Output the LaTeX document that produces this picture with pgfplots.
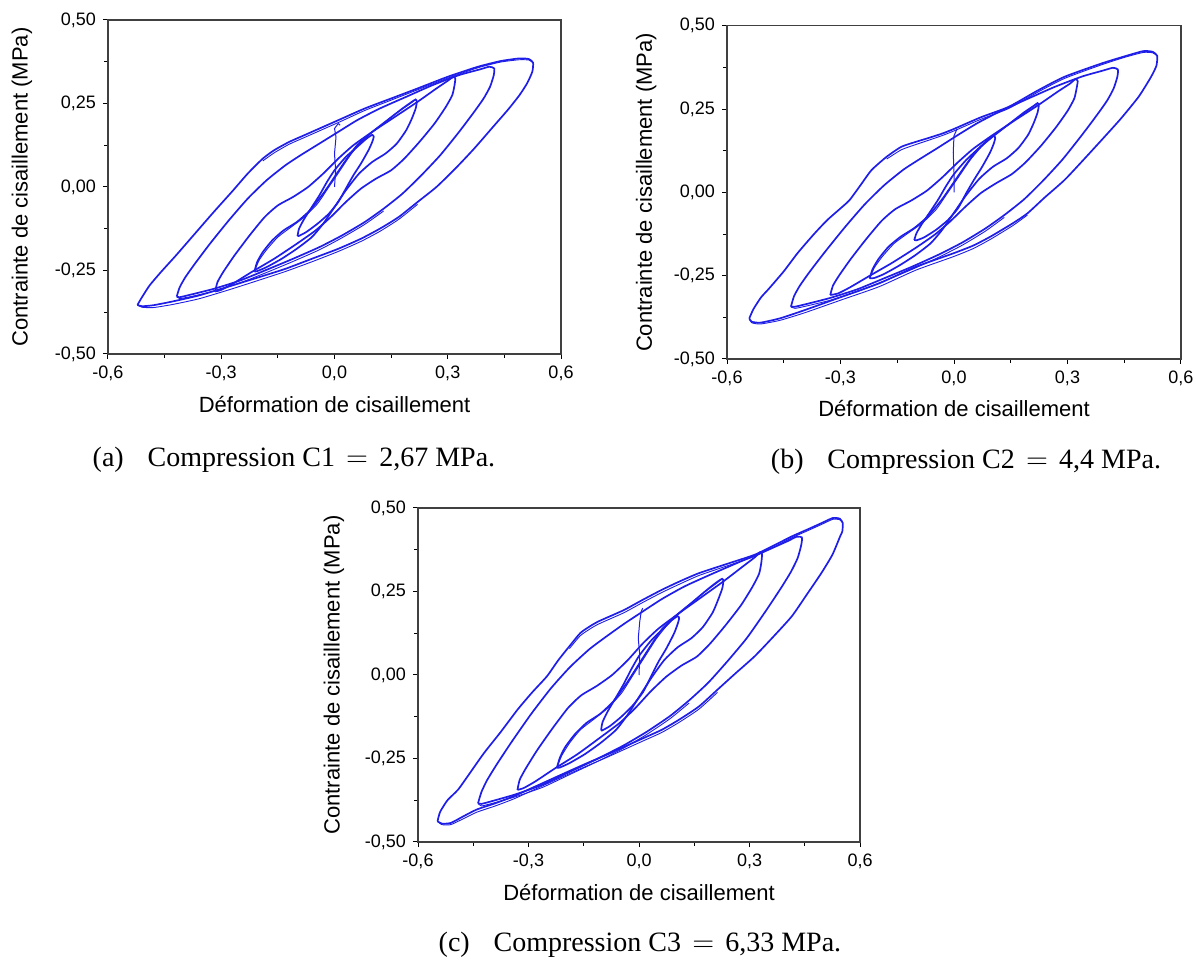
\documentclass[border=0pt]{standalone}
\usepackage{pgfplots}
\pgfplotsset{compat=1.18}
\usepackage{fontspec}
\setmainfont{Liberation Sans}
\newfontfamily\capfont{Liberation Serif}
\definecolor{loopblue}{RGB}{30,30,232}
\pgfplotsset{
  panel/.style={
    scale only axis, anchor=south west,
    xmin=-0.6, xmax=0.6, ymin=-0.5, ymax=0.5,
    xtick={-0.6,-0.3,0,0.3,0.6},
    xticklabels={{-0,6},{-0,3},{0,0},{0,3},{0,6}},
    ytick={-0.5,-0.25,0,0.25,0.5},
    yticklabels={{-0,50},{-0,25},{0,00},{0,25},{0,50}},
    minor xtick={-0.45,-0.15,0.15,0.45},
    minor ytick={-0.375,-0.125,0.125,0.375},
    tick align=outside, tick pos=left,
    major tick length=2.5pt, minor tick length=1.8pt,
    tick style={black, line width=0.5pt},
    axis line style={black!75, line width=0.6pt},
    tick label style={font=\fontsize{9}{11}\selectfont},
    xlabel={Déformation de cisaillement},
    ylabel={Contrainte de cisaillement (MPa)},
    xlabel style={font=\fontsize{11}{13}\selectfont, at={(axis description cs:0.5,-0.15)}, anchor=center},
    ylabel style={font=\fontsize{11}{13}\selectfont, anchor=center},
    clip=false,
  },
  hyst/.style={color=loopblue, line width=0.85pt, smooth, tension=0.35, mark=none},
  strand/.style={color=loopblue, line width=0.45pt, smooth, tension=0.35, mark=none},
}
\begin{document}
\begin{tikzpicture}
\useasboundingbox (0,0) rectangle (598pt,480pt);
% ---------------- (a)
\begin{axis}[panel, width=226.5pt, height=167pt, at={(54pt,303pt)},
  ylabel style={at={(axis description cs:-0.19,0.5)}}]
\addplot[hyst] coordinates {(-0.522,-0.353)(-0.510,-0.330)(-0.490,-0.295)(-0.460,-0.255)(-0.420,-0.205)(-0.370,-0.140)(-0.320,-0.075)(-0.270,-0.012)(-0.230,0.040)(-0.190,0.085)(-0.160,0.110)(-0.120,0.135)(-0.080,0.155)(-0.030,0.180)(0.020,0.205)(0.080,0.235)(0.150,0.265)(0.220,0.295)(0.300,0.330)(0.380,0.360)(0.440,0.377)(0.490,0.385)(0.515,0.383)(0.526,0.372)(0.524,0.345)(0.510,0.310)(0.490,0.275)(0.460,0.232)(0.420,0.180)(0.370,0.115)(0.320,0.055)(0.270,0.000)(0.220,-0.045)(0.170,-0.090)(0.120,-0.125)(0.070,-0.155)(0.010,-0.185)(-0.060,-0.215)(-0.130,-0.245)(-0.200,-0.270)(-0.280,-0.298)(-0.360,-0.325)(-0.430,-0.343)(-0.480,-0.354)(-0.510,-0.357)(-0.522,-0.353)};
\addplot[strand] coordinates {(0.220,-0.052)(0.170,-0.097)(0.120,-0.133)(0.070,-0.163)(0.010,-0.193)(-0.060,-0.224)(-0.130,-0.253)(-0.200,-0.279)(-0.280,-0.308)(-0.360,-0.335)(-0.430,-0.352)(-0.480,-0.361)(-0.510,-0.360)(-0.522,-0.353)};
\addplot[strand] coordinates {(-0.190,0.078)(-0.160,0.102)(-0.120,0.128)(-0.080,0.148)(-0.030,0.173)(0.020,0.198)(0.080,0.229)(0.150,0.260)(0.220,0.291)(0.300,0.326)(0.380,0.357)(0.440,0.374)(0.490,0.381)(0.515,0.380)(0.526,0.372)};
\addplot[hyst] coordinates {(-0.418,-0.328)(-0.410,-0.300)(-0.395,-0.270)(-0.370,-0.230)(-0.330,-0.170)(-0.280,-0.100)(-0.230,-0.035)(-0.180,0.020)(-0.130,0.065)(-0.090,0.095)(-0.040,0.130)(0.010,0.165)(0.060,0.200)(0.120,0.235)(0.190,0.270)(0.260,0.305)(0.330,0.335)(0.385,0.352)(0.410,0.360)(0.423,0.355)(0.422,0.335)(0.412,0.300)(0.395,0.265)(0.370,0.225)(0.330,0.165)(0.280,0.095)(0.230,0.035)(0.180,-0.020)(0.130,-0.065)(0.080,-0.105)(0.020,-0.145)(-0.040,-0.180)(-0.110,-0.215)(-0.180,-0.248)(-0.250,-0.280)(-0.320,-0.305)(-0.380,-0.322)(-0.410,-0.330)(-0.418,-0.328)};
\addplot[strand] coordinates {(0.130,-0.072)(0.080,-0.112)(0.020,-0.152)(-0.040,-0.188)(-0.110,-0.223)(-0.180,-0.256)(-0.250,-0.287)(-0.320,-0.312)(-0.380,-0.328)(-0.410,-0.334)(-0.418,-0.328)};
\addplot[hyst] coordinates {(-0.316,-0.313)(-0.310,-0.285)(-0.295,-0.255)(-0.265,-0.205)(-0.225,-0.145)(-0.185,-0.090)(-0.150,-0.055)(-0.110,-0.030)(-0.070,0.000)(-0.030,0.040)(0.010,0.085)(0.050,0.125)(0.100,0.165)(0.160,0.210)(0.220,0.255)(0.270,0.295)(0.300,0.318)(0.315,0.330)(0.320,0.325)(0.318,0.305)(0.312,0.275)(0.295,0.240)(0.265,0.190)(0.225,0.135)(0.185,0.085)(0.150,0.050)(0.110,0.025)(0.070,-0.005)(0.030,-0.045)(-0.010,-0.090)(-0.050,-0.130)(-0.100,-0.170)(-0.160,-0.215)(-0.220,-0.255)(-0.270,-0.290)(-0.300,-0.308)(-0.316,-0.313)};
\addplot[hyst] coordinates {(-0.212,-0.253)(-0.205,-0.225)(-0.190,-0.195)(-0.165,-0.160)(-0.135,-0.130)(-0.100,-0.105)(-0.065,-0.070)(-0.030,-0.020)(0.000,0.030)(0.030,0.080)(0.060,0.125)(0.100,0.165)(0.140,0.200)(0.180,0.235)(0.205,0.255)(0.215,0.262)(0.218,0.255)(0.215,0.235)(0.205,0.205)(0.190,0.170)(0.165,0.130)(0.135,0.100)(0.100,0.075)(0.065,0.040)(0.030,-0.010)(0.000,-0.060)(-0.030,-0.110)(-0.060,-0.150)(-0.100,-0.185)(-0.140,-0.215)(-0.180,-0.240)(-0.205,-0.252)(-0.212,-0.253)};
\addplot[strand] coordinates {(-0.212,-0.253)(-0.200,-0.220)(-0.180,-0.188)(-0.150,-0.150)(-0.115,-0.120)(-0.080,-0.090)(-0.045,-0.050)(-0.015,0.000)(0.015,0.050)(0.045,0.100)(0.080,0.145)(0.120,0.182)(0.160,0.218)(0.195,0.245)(0.215,0.262)};
\addplot[hyst] coordinates {(-0.098,-0.147)(-0.094,-0.125)(-0.080,-0.095)(-0.060,-0.060)(-0.040,-0.025)(-0.020,0.015)(0.000,0.050)(0.030,0.090)(0.060,0.120)(0.085,0.145)(0.100,0.156)(0.104,0.150)(0.100,0.135)(0.090,0.110)(0.070,0.070)(0.050,0.035)(0.030,-0.005)(0.010,-0.045)(-0.015,-0.080)(-0.045,-0.110)(-0.075,-0.135)(-0.095,-0.147)(-0.098,-0.147)};
\addplot[color=loopblue, line width=0.5pt] coordinates {(0.000,0.000)(0.003,0.050)(0.000,0.100)(0.004,0.150)(0.000,0.175)(0.010,0.190)(0.015,0.185)};
\end{axis}
% ---------------- (b)
\begin{axis}[panel, width=227pt, height=166.6pt, at={(363.5pt,300.5pt)},
  ylabel style={at={(axis description cs:-0.178,0.5)}}]
\addplot[hyst] coordinates {(-0.541,-0.378)(-0.530,-0.350)(-0.510,-0.315)(-0.490,-0.290)(-0.450,-0.237)(-0.414,-0.183)(-0.370,-0.125)(-0.335,-0.083)(-0.300,-0.048)(-0.276,-0.023)(-0.245,0.025)(-0.218,0.067)(-0.178,0.107)(-0.139,0.137)(-0.100,0.152)(-0.071,0.162)(-0.030,0.177)(0.003,0.192)(0.070,0.225)(0.145,0.257)(0.220,0.305)(0.292,0.347)(0.390,0.387)(0.450,0.408)(0.500,0.424)(0.525,0.422)(0.537,0.410)(0.535,0.380)(0.520,0.345)(0.488,0.287)(0.440,0.220)(0.390,0.157)(0.340,0.095)(0.292,0.037)(0.240,-0.015)(0.194,-0.063)(0.155,-0.093)(0.096,-0.133)(0.050,-0.160)(-0.002,-0.183)(-0.100,-0.223)(-0.198,-0.273)(-0.296,-0.313)(-0.394,-0.353)(-0.460,-0.378)(-0.512,-0.391)(-0.535,-0.388)(-0.541,-0.378)};
\addplot[strand] coordinates {(0.194,-0.068)(0.155,-0.100)(0.096,-0.141)(0.050,-0.169)(-0.002,-0.193)(-0.100,-0.233)(-0.198,-0.283)(-0.296,-0.322)(-0.394,-0.361)(-0.460,-0.384)(-0.512,-0.395)(-0.535,-0.391)(-0.541,-0.378)};
\addplot[strand] coordinates {(-0.178,0.100)(-0.139,0.128)(-0.100,0.144)(-0.071,0.155)(-0.030,0.171)(0.003,0.186)(0.070,0.219)(0.145,0.252)(0.220,0.300)(0.292,0.342)(0.390,0.383)(0.450,0.405)(0.500,0.420)(0.525,0.419)(0.537,0.410)};
\addplot[hyst] coordinates {(-0.431,-0.343)(-0.423,-0.312)(-0.408,-0.281)(-0.382,-0.239)(-0.340,-0.177)(-0.288,-0.104)(-0.236,-0.036)(-0.185,0.021)(-0.134,0.068)(-0.092,0.099)(-0.041,0.135)(0.010,0.172)(0.062,0.208)(0.123,0.244)(0.195,0.281)(0.267,0.317)(0.339,0.348)(0.395,0.366)(0.420,0.374)(0.433,0.369)(0.432,0.348)(0.422,0.312)(0.405,0.276)(0.379,0.234)(0.338,0.172)(0.287,0.099)(0.236,0.036)(0.185,-0.021)(0.133,-0.068)(0.082,-0.109)(0.021,-0.151)(-0.041,-0.187)(-0.113,-0.224)(-0.185,-0.258)(-0.256,-0.291)(-0.328,-0.317)(-0.390,-0.335)(-0.420,-0.343)(-0.431,-0.343)};
\addplot[strand] coordinates {(0.133,-0.075)(0.082,-0.117)(0.021,-0.159)(-0.041,-0.195)(-0.113,-0.232)(-0.185,-0.266)(-0.256,-0.298)(-0.328,-0.324)(-0.390,-0.341)(-0.420,-0.348)(-0.431,-0.343)};
\addplot[hyst] coordinates {(-0.327,-0.308)(-0.320,-0.280)(-0.304,-0.250)(-0.273,-0.200)(-0.232,-0.140)(-0.191,-0.085)(-0.155,-0.050)(-0.114,-0.025)(-0.072,0.005)(-0.031,0.045)(0.010,0.090)(0.051,0.131)(0.102,0.172)(0.163,0.218)(0.224,0.263)(0.275,0.303)(0.306,0.326)(0.321,0.340)(0.327,0.334)(0.324,0.312)(0.318,0.282)(0.301,0.246)(0.270,0.196)(0.230,0.140)(0.189,0.090)(0.153,0.055)(0.112,0.028)(0.071,-0.002)(0.031,-0.042)(-0.010,-0.087)(-0.051,-0.127)(-0.102,-0.167)(-0.163,-0.211)(-0.224,-0.251)(-0.275,-0.285)(-0.306,-0.303)(-0.327,-0.308)};
\addplot[hyst] coordinates {(-0.223,-0.258)(-0.215,-0.230)(-0.199,-0.199)(-0.173,-0.163)(-0.141,-0.133)(-0.105,-0.107)(-0.068,-0.071)(-0.031,-0.020)(0.000,0.031)(0.031,0.082)(0.062,0.128)(0.103,0.168)(0.144,0.204)(0.185,0.240)(0.211,0.260)(0.221,0.268)(0.224,0.260)(0.221,0.240)(0.211,0.209)(0.196,0.173)(0.170,0.133)(0.139,0.102)(0.103,0.077)(0.067,0.041)(0.031,-0.010)(0.000,-0.061)(-0.031,-0.112)(-0.062,-0.153)(-0.103,-0.189)(-0.144,-0.219)(-0.185,-0.245)(-0.211,-0.257)(-0.223,-0.258)};
\addplot[strand] coordinates {(-0.223,-0.258)(-0.210,-0.225)(-0.189,-0.192)(-0.158,-0.153)(-0.121,-0.122)(-0.084,-0.092)(-0.047,-0.051)(-0.016,0.000)(0.015,0.051)(0.046,0.102)(0.082,0.148)(0.124,0.186)(0.165,0.222)(0.200,0.250)(0.221,0.268)};
\addplot[hyst] coordinates {(-0.105,-0.143)(-0.099,-0.122)(-0.084,-0.093)(-0.063,-0.058)(-0.042,-0.022)(-0.021,0.019)(0.000,0.055)(0.032,0.097)(0.063,0.130)(0.089,0.157)(0.105,0.170)(0.109,0.163)(0.105,0.146)(0.095,0.119)(0.074,0.076)(0.053,0.038)(0.032,-0.003)(0.011,-0.047)(-0.016,-0.083)(-0.047,-0.112)(-0.079,-0.135)(-0.100,-0.144)(-0.105,-0.143)};
\addplot[color=loopblue, line width=0.5pt] coordinates {(0.000,0.000)(0.000,0.060)(-0.002,0.120)(0.000,0.170)(0.008,0.190)};
\end{axis}
% ---------------- (c)
\begin{axis}[panel, width=221pt, height=167pt, at={(209pt,59pt)},
  ylabel style={at={(axis description cs:-0.19,0.5)}}]
\addplot[hyst] coordinates {(-0.547,-0.438)(-0.540,-0.410)(-0.520,-0.375)(-0.491,-0.343)(-0.460,-0.295)(-0.421,-0.234)(-0.375,-0.170)(-0.330,-0.104)(-0.290,-0.052)(-0.250,-0.004)(-0.220,0.043)(-0.189,0.086)(-0.159,0.126)(-0.130,0.148)(-0.109,0.161)(-0.070,0.180)(-0.038,0.196)(0.010,0.225)(0.062,0.255)(0.110,0.280)(0.163,0.305)(0.240,0.333)(0.314,0.360)(0.370,0.390)(0.415,0.415)(0.460,0.437)(0.496,0.455)(0.526,0.470)(0.545,0.468)(0.553,0.455)(0.552,0.430)(0.546,0.415)(0.525,0.360)(0.495,0.305)(0.455,0.240)(0.415,0.176)(0.365,0.115)(0.314,0.056)(0.260,0.003)(0.213,-0.044)(0.163,-0.094)(0.110,-0.133)(0.062,-0.164)(0.010,-0.190)(-0.038,-0.214)(-0.090,-0.240)(-0.139,-0.263)(-0.190,-0.288)(-0.240,-0.313)(-0.290,-0.338)(-0.340,-0.363)(-0.390,-0.384)(-0.441,-0.403)(-0.480,-0.425)(-0.511,-0.443)(-0.535,-0.445)(-0.547,-0.438)};
\addplot[strand] coordinates {(0.213,-0.052)(0.163,-0.102)(0.110,-0.141)(0.062,-0.172)(0.010,-0.198)(-0.038,-0.222)(-0.090,-0.248)(-0.139,-0.271)(-0.190,-0.296)(-0.240,-0.321)(-0.290,-0.346)(-0.340,-0.371)(-0.390,-0.392)(-0.441,-0.411)(-0.480,-0.432)(-0.511,-0.448)(-0.535,-0.448)(-0.547,-0.438)};
\addplot[strand] coordinates {(-0.189,0.079)(-0.159,0.118)(-0.130,0.140)(-0.109,0.153)(-0.070,0.172)(-0.038,0.188)(0.010,0.217)(0.062,0.247)(0.110,0.272)(0.163,0.298)(0.240,0.327)(0.314,0.355)(0.370,0.385)(0.415,0.411)(0.460,0.433)(0.496,0.451)(0.526,0.466)(0.545,0.465)(0.553,0.455)};
\addplot[hyst] coordinates {(-0.437,-0.384)(-0.428,-0.351)(-0.413,-0.316)(-0.387,-0.269)(-0.345,-0.199)(-0.293,-0.117)(-0.240,-0.041)(-0.188,0.023)(-0.136,0.076)(-0.094,0.111)(-0.042,0.152)(0.010,0.190)(0.063,0.228)(0.125,0.266)(0.199,0.303)(0.272,0.338)(0.345,0.372)(0.402,0.400)(0.428,0.414)(0.442,0.412)(0.441,0.392)(0.431,0.351)(0.413,0.310)(0.387,0.263)(0.345,0.193)(0.293,0.111)(0.240,0.041)(0.188,-0.023)(0.136,-0.076)(0.084,-0.123)(0.021,-0.170)(-0.042,-0.211)(-0.115,-0.252)(-0.188,-0.290)(-0.261,-0.328)(-0.334,-0.357)(-0.397,-0.377)(-0.428,-0.386)(-0.437,-0.384)};
\addplot[strand] coordinates {(0.136,-0.084)(0.084,-0.131)(0.021,-0.178)(-0.042,-0.219)(-0.115,-0.260)(-0.188,-0.298)(-0.261,-0.336)(-0.334,-0.364)(-0.397,-0.384)(-0.428,-0.392)(-0.437,-0.384)};
\addplot[hyst] coordinates {(-0.330,-0.344)(-0.324,-0.314)(-0.308,-0.281)(-0.277,-0.226)(-0.235,-0.160)(-0.193,-0.099)(-0.157,-0.061)(-0.115,-0.033)(-0.073,0.000)(-0.031,0.044)(0.010,0.094)(0.052,0.138)(0.105,0.182)(0.167,0.231)(0.230,0.281)(0.282,0.325)(0.314,0.352)(0.329,0.368)(0.334,0.362)(0.332,0.336)(0.326,0.303)(0.308,0.264)(0.277,0.209)(0.235,0.149)(0.193,0.094)(0.157,0.055)(0.115,0.028)(0.073,-0.006)(0.031,-0.050)(-0.010,-0.099)(-0.052,-0.143)(-0.105,-0.187)(-0.167,-0.237)(-0.230,-0.281)(-0.282,-0.319)(-0.314,-0.339)(-0.330,-0.344)};
\addplot[hyst] coordinates {(-0.223,-0.278)(-0.215,-0.248)(-0.200,-0.215)(-0.173,-0.176)(-0.142,-0.143)(-0.105,-0.116)(-0.068,-0.077)(-0.032,-0.022)(0.000,0.033)(0.032,0.088)(0.063,0.138)(0.105,0.182)(0.147,0.220)(0.189,0.259)(0.215,0.281)(0.226,0.288)(0.229,0.281)(0.226,0.259)(0.215,0.226)(0.200,0.187)(0.173,0.143)(0.142,0.110)(0.105,0.083)(0.068,0.044)(0.032,-0.011)(0.000,-0.066)(-0.032,-0.121)(-0.063,-0.165)(-0.105,-0.204)(-0.147,-0.237)(-0.189,-0.264)(-0.215,-0.277)(-0.223,-0.278)};
\addplot[strand] coordinates {(-0.223,-0.278)(-0.210,-0.242)(-0.190,-0.206)(-0.160,-0.165)(-0.122,-0.132)(-0.085,-0.099)(-0.048,-0.055)(-0.016,0.000)(0.016,0.055)(0.048,0.110)(0.085,0.160)(0.126,0.200)(0.168,0.240)(0.205,0.270)(0.226,0.288)};
\addplot[hyst] coordinates {(-0.103,-0.166)(-0.099,-0.141)(-0.084,-0.107)(-0.063,-0.068)(-0.042,-0.028)(-0.021,0.017)(0.000,0.057)(0.032,0.102)(0.063,0.136)(0.089,0.164)(0.105,0.176)(0.109,0.170)(0.105,0.153)(0.095,0.124)(0.074,0.079)(0.053,0.040)(0.032,-0.006)(0.011,-0.051)(-0.016,-0.090)(-0.047,-0.124)(-0.079,-0.153)(-0.100,-0.166)(-0.103,-0.166)};
\addplot[color=loopblue, line width=0.5pt] coordinates {(0.000,0.000)(0.002,0.060)(-0.002,0.110)(0.002,0.160)(0.006,0.190)(0.010,0.200)};
\end{axis}
% captions
\node[font=\capfont\fontsize{14}{16}\selectfont] at (147pt,250pt) {(a)\hspace{0.85em}Compression C1\hspace{0.4em}$=$\hspace{0.4em}2,67 MPa.};
\node[font=\capfont\fontsize{14}{16}\selectfont] at (483pt,249pt) {(b)\hspace{0.85em}Compression C2\hspace{0.4em}$=$\hspace{0.4em}4,4 MPa.};
\node[font=\capfont\fontsize{14}{16}\selectfont] at (320pt,7.5pt) {(c)\hspace{0.85em}Compression C3\hspace{0.4em}$=$\hspace{0.4em}6,33 MPa.};
\end{tikzpicture}
\end{document}
